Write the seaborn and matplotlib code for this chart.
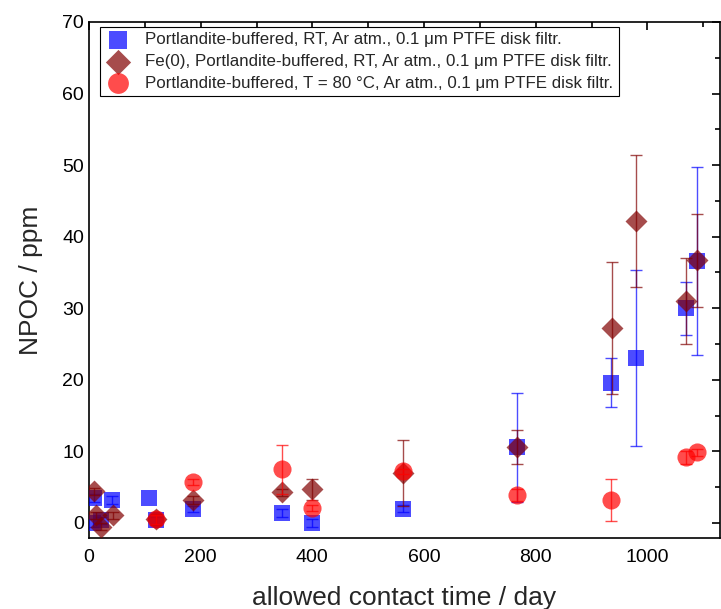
import matplotlib
matplotlib.use("Agg")
import matplotlib.pyplot as plt
from matplotlib.ticker import MultipleLocator
import seaborn as sns
import pandas as pd

# ---- data ----
labels = [
    "Portlandite-buffered, RT, Ar atm., 0.1 \u03bcm PTFE disk filtr.",
    "Fe(0), Portlandite-buffered, RT, Ar atm., 0.1 \u03bcm PTFE disk filtr.",
    "Portlandite-buffered, T = 80 \u00b0C, Ar atm., 0.1 \u03bcm PTFE disk filtr.",
]

days_sq = [7, 9, 22, 41, 107, 120, 186, 345, 399, 562, 767, 935, 979, 1070, 1089]
val_sq = [0.0, 3.5, 0.4, 3.2, 3.5, 0.4, 2.0, 1.4, 0.0, 2.0, 10.6, 19.6, 23.0, 30.0, 36.6]
err_sq = [0.5, 0.5, 0.5, 0.6, 0.0, 0.5, 0.4, 0.6, 0.6, 0.5, 7.6, 3.4, 12.3, 3.7, 13.1]

days_di = [9, 13, 22, 43, 120, 186, 345, 399, 562, 767, 936, 979, 1070, 1089]
val_di = [4.4, 1.1, -0.5, 1.1, 0.5, 3.2, 4.3, 4.7, 7.0, 10.6, 27.2, 42.2, 31.0, 36.7]
err_di = [0.5, 0.5, 0.5, 0.5, 0.8, 0.5, 0.5, 1.5, 4.6, 2.4, 9.2, 9.2, 6.0, 6.5]

days_ci = [120, 186, 345, 399, 562, 767, 935, 1070, 1089]
val_ci = [0.5, 5.7, 7.5, 2.1, 7.2, 3.9, 3.2, 9.2, 9.9]
err_ci = [0.6, 0.4, 3.4, 0.4, 0.3, 0.8, 2.9, 0.9, 0.5]

colors = ["#0000ff", "#800000", "#ff0000"]
markers = ["s", "D", "o"]
sizes = [130, 125, 170]

sns.set_theme(style="white")
plt.rcParams["font.family"] = ["Liberation Sans", "DejaVu Sans"]

fig = plt.figure(figsize=(7.21, 6.09), dpi=100)
ax = fig.add_axes([89 / 721, 71 / 609, 631 / 721, 516 / 609])

series = [(days_sq, val_sq, err_sq), (days_di, val_di, err_di), (days_ci, val_ci, err_ci)]
for i, (d, v, e) in enumerate(series):
    df = pd.DataFrame({"day": d, "npoc": v, "err": e, "series": labels[i]})
    de = df[df["err"] > 0]
    ax.errorbar(de["day"], de["npoc"], yerr=de["err"], fmt="none", ecolor=colors[i],
                elinewidth=1.0, capsize=4, capthick=1.0, alpha=0.7, zorder=2 + i)
    sns.scatterplot(data=df, x="day", y="npoc", ax=ax, color=colors[i],
                    marker=markers[i], s=sizes[i], alpha=0.7, linewidth=0,
                    label=labels[i], zorder=3 + i)

ax.set_xlim(0, 1130)
ax.set_ylim(-2.1, 70)
ax.xaxis.set_major_locator(MultipleLocator(200))
ax.xaxis.set_minor_locator(MultipleLocator(100))
ax.yaxis.set_major_locator(MultipleLocator(10))
ax.yaxis.set_minor_locator(MultipleLocator(5))
ax.tick_params(which="both", direction="in", top=True, right=True, colors="black",
               labelsize=14, width=1.2)
ax.tick_params(which="major", length=6)
ax.tick_params(which="minor", length=3.5)
ax.tick_params(axis="x", pad=8)
ax.tick_params(top=True, right=True, labeltop=False, labelright=False)
for sp in ax.spines.values():
    sp.set_color("black")
    sp.set_linewidth(1.2)

ax.set_xlabel("allowed contact time / day", fontsize=19, labelpad=14)
ax.set_ylabel("NPOC / ppm", fontsize=19, labelpad=14)

leg = ax.legend(loc="upper left", bbox_to_anchor=(0.017, 0.99), fontsize=12.2,
                frameon=True, fancybox=False, edgecolor="black", framealpha=1,
                borderpad=0.3, labelspacing=0.4, handlelength=1.6, handletextpad=0.8,
                borderaxespad=0, markerscale=1.15)
leg.get_frame().set_linewidth(0.8)

fig.savefig("out.png", dpi=100)
